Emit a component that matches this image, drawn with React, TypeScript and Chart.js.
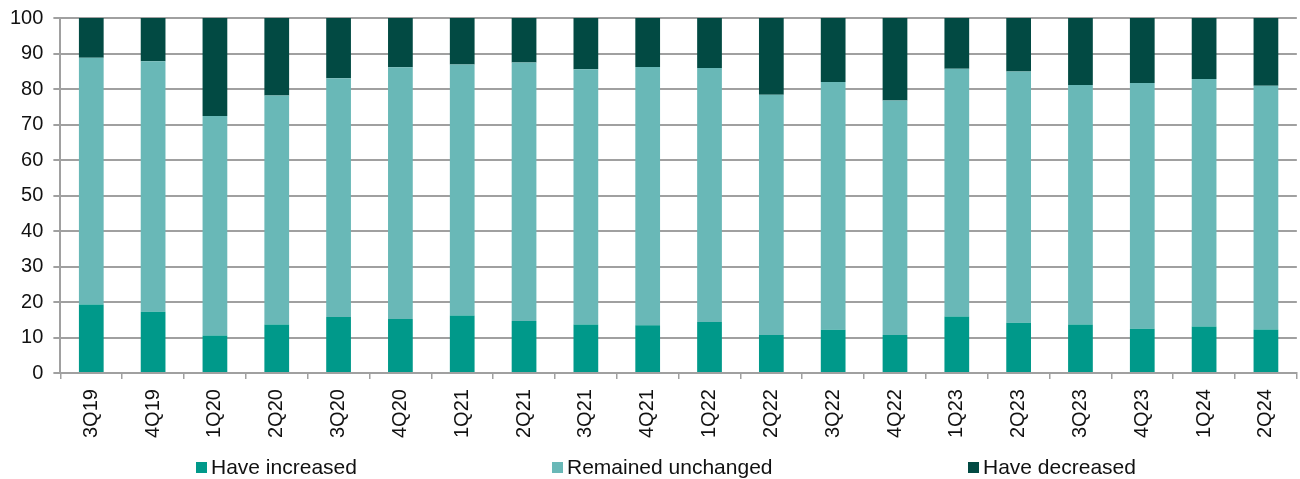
import React, { useEffect, useRef } from "react";
import { Chart, registerables } from "chart.js";

Chart.register(...registerables);

// Quarterly survey: share of respondents (%)
const quarters = [
  "3Q19", "4Q19", "1Q20", "2Q20", "3Q20", "4Q20", "1Q21", "2Q21", "3Q21", "4Q21",
  "1Q22", "2Q22", "3Q22", "4Q22", "1Q23", "2Q23", "3Q23", "4Q23", "1Q24", "2Q24",
];
const haveIncreased = [
  19.3, 17.3, 10.6, 13.7, 15.8, 15.2, 16.2, 14.7, 13.7, 13.5,
  14.4, 10.7, 12.2, 10.7, 15.9, 14.2, 13.7, 12.5, 13.1, 12.3,
];
const remainedUnchanged = [
  69.5, 70.5, 61.8, 64.5, 67.2, 70.9, 70.7, 72.8, 71.9, 72.7,
  71.5, 67.7, 69.8, 66.1, 69.8, 70.7, 67.4, 69.2, 69.7, 68.6,
];
const haveDecreased = [
  11.2, 12.2, 27.6, 21.8, 17.0, 13.9, 13.1, 12.5, 14.4, 13.8,
  14.1, 21.6, 18.0, 23.2, 14.3, 15.1, 18.9, 18.3, 17.2, 19.1,
];
const seriesNames = ["Have increased", "Remained unchanged", "Have decreased"];
const seriesColors = ["#00998a", "#69b8b7", "#024a43"];
const yTicks = [0, 10, 20, 30, 40, 50, 60, 70, 80, 90, 100];

const FONT = "'Liberation Sans', Arial, Helvetica, sans-serif";
const legendLeft = [196, 552, 968];

export default function App() {
  const canvasRef = useRef<HTMLCanvasElement | null>(null);

  useEffect(() => {
    const canvas = canvasRef.current;
    if (!canvas) return;
    const seriesValues = [haveIncreased, remainedUnchanged, haveDecreased];
    const chart = new Chart(canvas, {
      type: "bar",
      data: {
        labels: quarters,
        datasets: seriesNames.map((name, i) => ({
          label: name,
          data: seriesValues[i],
          backgroundColor: seriesColors[i],
          borderWidth: 0,
          barPercentage: 0.4,
          categoryPercentage: 1,
        })),
      },
      options: {
        animation: false,
        responsive: false,
        maintainAspectRatio: false,
        layout: { padding: { top: 0, left: 0, right: 3, bottom: 31 } },
        plugins: {
          legend: { display: false },
          tooltip: { enabled: false },
        },
        scales: {
          x: {
            stacked: true,
            grid: {
              display: true,
              drawOnChartArea: false,
              drawTicks: true,
              tickLength: 6,
              color: "#a0a0a0",
              lineWidth: 1.5,
              offset: true,
            },
            border: { display: true, color: "#a0a0a0", width: 2 },
            ticks: {
              color: "#111",
              font: { family: FONT, size: 20 },
              minRotation: 90,
              maxRotation: 90,
              autoSkip: false,
              padding: 10,
            },
          },
          y: {
            stacked: true,
            min: 0,
            max: 100,
            afterBuildTicks: (axis: any) => {
              axis.ticks = yTicks.map((v) => ({ value: v }));
            },
            grid: {
              color: "#a0a0a0",
              lineWidth: 2,
              drawTicks: true,
              tickLength: 7,
            },
            border: { display: true, color: "#a0a0a0", width: 2 },
            ticks: {
              color: "#111",
              font: { family: FONT, size: 20 },
              padding: 10,
            },
          },
        },
      },
    });
    return () => chart.destroy();
  }, []);

  return (
    <div
      style={{
        position: "fixed",
        left: 0,
        top: 0,
        width: 1300,
        height: 479,
        background: "#fff",
        overflow: "hidden",
      }}
    >
      <canvas
        ref={canvasRef}
        width={1300}
        height={483}
        style={{ display: "block", position: "absolute", left: 0, top: -4 }}
      />
      {seriesNames.map((name, i) => (
        <div
          key={name}
          style={{
            position: "absolute",
            left: legendLeft[i],
            top: 456,
            display: "flex",
            alignItems: "center",
            fontFamily: FONT,
            fontSize: 21,
            lineHeight: "22px",
            color: "#111",
            whiteSpace: "nowrap",
          }}
        >
          <span
            style={{
              display: "inline-block",
              width: 11,
              height: 11,
              background: seriesColors[i],
              marginRight: 4,
            }}
          />
          {name}
        </div>
      ))}
    </div>
  );
}
